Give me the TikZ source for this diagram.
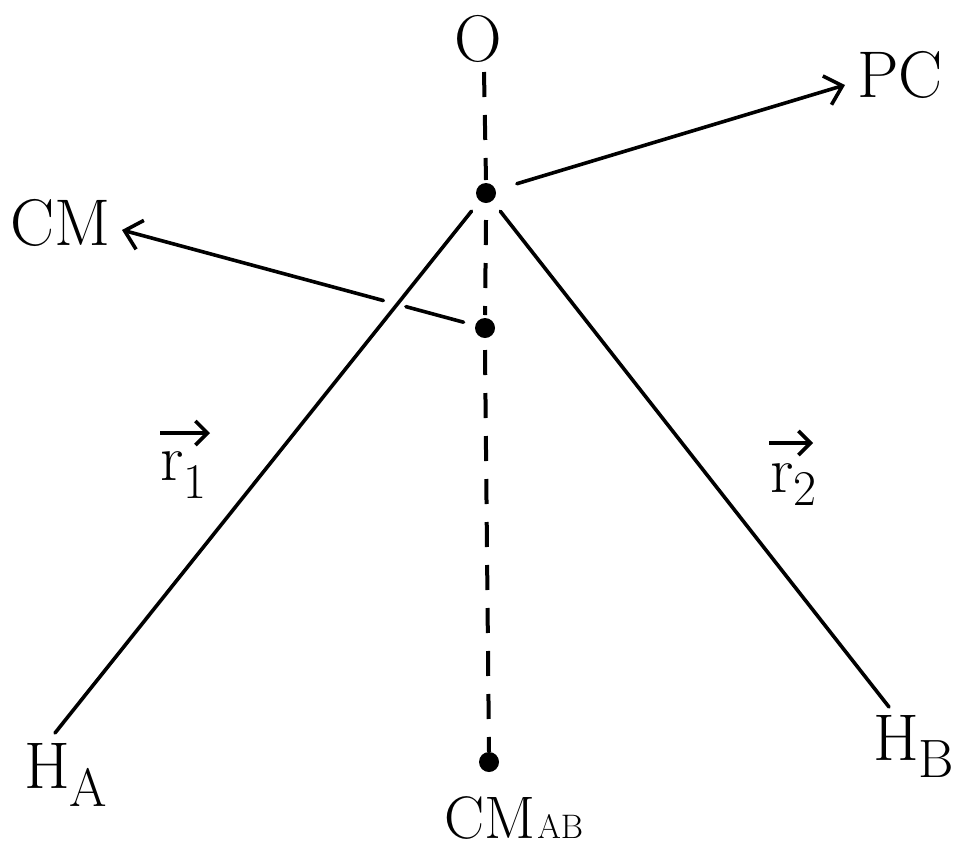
\documentclass[tikz,border=0pt]{standalone}
\usetikzlibrary{arrows.meta,calc}
\begin{document}
\begin{tikzpicture}[x=1pt,y=-1pt,
  lbl/.style={inner sep=0pt,anchor=base west,font=\fontsize{66}{72}\selectfont},
  dotn/.style={circle,fill=black,inner sep=0pt,minimum size=20pt},
  ln/.style={line width=3.6pt,line cap=round},
  dsh/.style={line width=4pt,line cap=butt,dash pattern=on 25pt off 18pt},
  arr/.style={ln,-{Straight Barb[length=16pt,width=30pt,line width=3.6pt]}},
  vec/.style={line width=3.8pt,-{Straight Barb[length=12pt,width=24pt,line width=3.6pt]}}]
\useasboundingbox (0,0) rectangle (968,847);
% labels
\node[lbl,anchor=base] (O) at (478,61) {O};
\node[lbl] (PC) at (857,97) {PC};
\node[lbl] (CM) at (10,245) {CM};
\node[lbl] (HA) at (24,788) {H\raisebox{-18pt}{\fontsize{54}{54}\selectfont A}};
\node[lbl] (HB) at (873,760) {H\raisebox{-17pt}{\fontsize{54}{54}\selectfont B}};
\node[lbl,font=\fontsize{60}{62}\selectfont] (CMAB) at (444,838) {CM\kern2pt{\fontsize{34}{34}\selectfont AB}};
\node[lbl] (r1) at (160,480) {r\raisebox{-18pt}{\fontsize{50}{50}\selectfont 1}};
\node[lbl] (r2) at (770,492) {r\raisebox{-13pt}{\fontsize{50}{50}\selectfont 2}};
\coordinate (v1a) at (160,433); \coordinate (v1b) at (210,433);
\coordinate (v2a) at (769,443); \coordinate (v2b) at (813,443);
\draw[vec] (v1a) -- (v1b);
\draw[vec] (v2a) -- (v2b);
% points
\node[dotn] (P) at (486,193) {};
\node[dotn] (M) at (485,328) {};
\node[dotn] (B) at (489,762) {};
\coordinate (HAend) at (55,733);
\coordinate (HBend) at (889,707);
\coordinate (CMtip) at (122,230);
\coordinate (PCtip) at (845,85);
% dashed axis
\draw[dsh] (484,72) -- ($(P)+(0,-13)$);
\draw[dsh] ($(P)+(0,27)$) -- ($(M)+(0,-13)$);
\draw[dsh] ($(M)+(0,22)$) -- ($(B)+(0,-10)$);
% bonds
\draw[ln,shorten <=13pt] (P) -- (HAend);
\draw[ln,shorten <=13pt] (P) -- (HBend);
% arrows
\draw[arr,shorten <=22pt] (P) -- (PCtip);
\draw[ln,shorten <=12pt] (M) -- ($(M)!0.218!(CMtip)$);
\draw[arr] ($(M)!0.28!(CMtip)$) -- (CMtip);
\end{tikzpicture}
\end{document}
